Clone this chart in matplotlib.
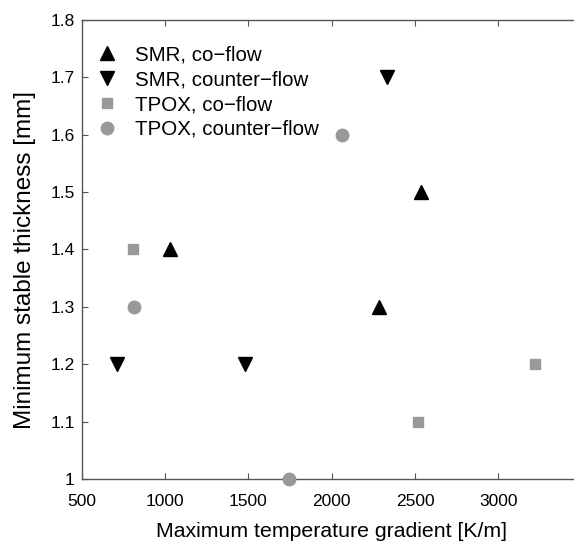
import matplotlib
matplotlib.use('Agg')
import matplotlib.pyplot as plt

smr_co_x = [1030, 2285, 2535]
smr_co_y = [1.4, 1.3, 1.5]
smr_counter_x = [712, 1478, 2330]
smr_counter_y = [1.2, 1.2, 1.7]
tpox_co_x = [806, 2516, 3218]
tpox_co_y = [1.4, 1.1, 1.2]
tpox_counter_x = [814, 2060, 1742]
tpox_counter_y = [1.3, 1.6, 1.0]

xticks = [500, 1000, 1500, 2000, 2500, 3000]
yticks = [1.0, 1.1, 1.2, 1.3, 1.4, 1.5, 1.6, 1.7, 1.8]
ytick_labels = ['1', '1.1', '1.2', '1.3', '1.4', '1.5', '1.6', '1.7', '1.8']

plt.rcParams['font.family'] = ['Liberation Sans', 'DejaVu Sans']

fig = plt.figure(figsize=(5.74, 5.43), dpi=100)
ax = fig.add_axes([0.1423, 0.1179, 0.871, 0.8453])

gray = '#999999'
ax.plot(smr_co_x, smr_co_y, '^', color='black', markersize=10, linestyle='none', label='SMR, co\u2212flow', clip_on=False)
ax.plot(smr_counter_x, smr_counter_y, 'v', color='black', markersize=10, linestyle='none', label='SMR, counter\u2212flow', clip_on=False)
ax.plot(tpox_co_x, tpox_co_y, 's', color=gray, markersize=7, linestyle='none', label='TPOX, co\u2212flow', clip_on=False)
ax.plot(tpox_counter_x, tpox_counter_y, 'o', color=gray, markersize=9, linestyle='none', label='TPOX, counter\u2212flow', clip_on=False, zorder=5)

ax.set_xlim(500, 3500)
ax.set_ylim(1.0, 1.8)
ax.set_xticks(xticks)
ax.set_xticklabels([str(t) for t in xticks])
ax.set_yticks(yticks)
ax.set_yticklabels(ytick_labels)

for s in ax.spines.values():
        s.set_color('#555555')
        s.set_linewidth(1.0)
ax.tick_params(direction='in', length=4, color='#555555', labelsize=12.5, top=True, pad=5)
ax.tick_params(axis='x', pad=10.5)

ax.set_xlabel('Maximum temperature gradient [K/m]', fontsize=15.3, labelpad=10)
ax.set_ylabel('Minimum stable thickness [mm]', fontsize=17.5)
#label sits a bit below the axes centre in the reference
ax.yaxis.set_label_coords(-0.092, 0.477)

ax.legend(loc='upper left', bbox_to_anchor=(0.0146, 0.962), frameon=False, fontsize=14.8,
          handlelength=1.0, handletextpad=0.85, labelspacing=0.28, borderaxespad=0,
          borderpad=0.4, numpoints=1)

fig.savefig('out.png', dpi=100)
